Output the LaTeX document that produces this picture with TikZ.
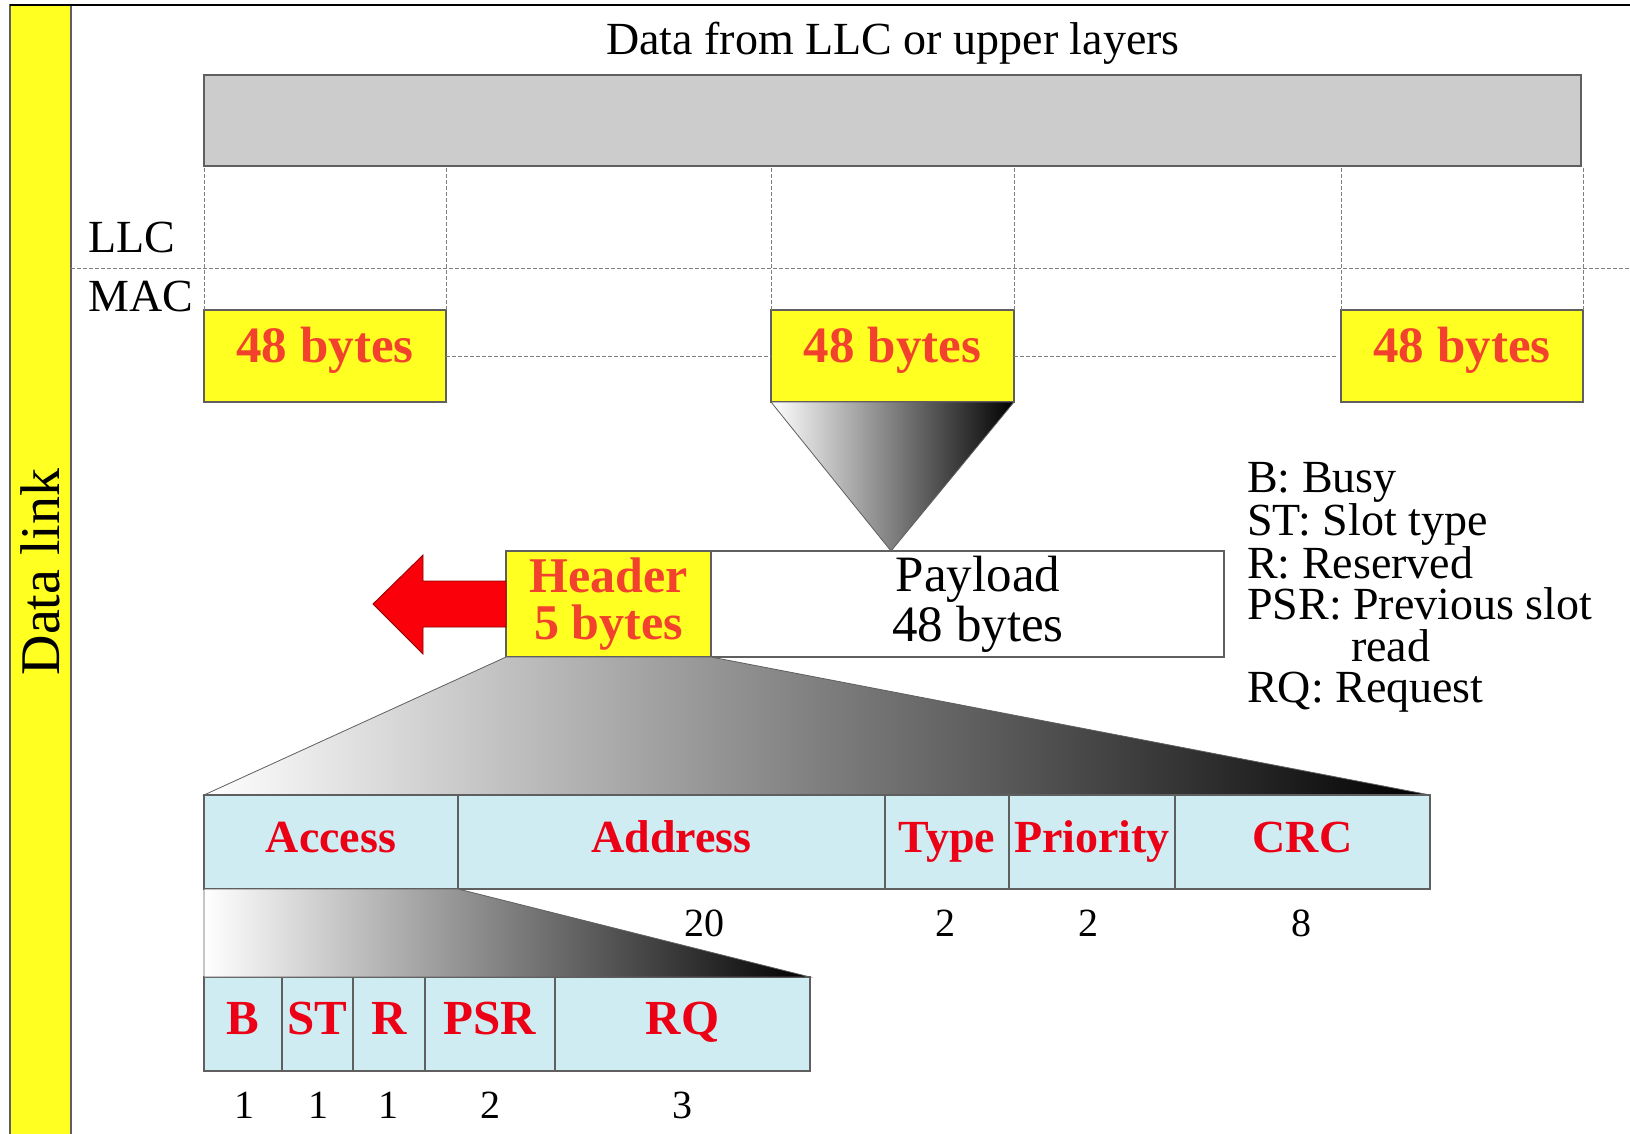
\documentclass[tikz,border=0pt]{standalone}
\usepackage{fontspec}
\setmainfont{Liberation Serif}
\usetikzlibrary{calc}

\definecolor{barYellow}{RGB}{255,255,34}
\definecolor{byteRed}{RGB}{242,66,46}
\definecolor{fieldRed}{RGB}{236,0,22}
\definecolor{cellBlue}{RGB}{206,236,242}
\definecolor{edgeGray}{RGB}{95,95,95}
\definecolor{upperGray}{RGB}{204,204,204}
\definecolor{arrowRed}{RGB}{250,0,10}

\newcommand\fsz[2]{\fontsize{#1}{#2}\selectfont}

\tikzset{
  plainbox/.style={inner sep=0pt, outer sep=0pt, anchor=north west, line width=1.2pt},
  cell/.style={plainbox, draw=edgeGray, fill=cellBlue, minimum height=94pt,
               text=fieldRed, font=\bfseries\fsz{46}{46},
               text height=34pt, text depth=14pt},
  subcell/.style={cell, font=\bfseries\fsz{49}{49}, text height=35pt, text depth=15pt},
  slotbox/.style={plainbox, draw=edgeGray, fill=barYellow, minimum width=242pt,
                  minimum height=92pt, text=byteRed, font=\bfseries\fsz{51}{51},
                  text height=35pt, text depth=23pt},
  guide/.style={draw=gray, line width=0.9pt, dash pattern=on 4pt off 2pt},
  fan/.style={draw=edgeGray, line width=0.8pt, left color=white, right color=black},
  count/.style={font=\fsz{40}{40}, inner sep=0pt},
  caption/.style={font=\fsz{46}{46}, inner sep=0pt}
}

\begin{document}
\begin{tikzpicture}[x=1pt, y=-1pt]
\useasboundingbox (0,0) rectangle (1630,1134);
\begin{scope}
\clip (0,0) rectangle (1630,1134);
\fill[white] (0,0) rectangle (1630,1134);

% side bar and frame
\node[plainbox, draw=edgeGray, fill=barYellow, minimum width=61pt,
      minimum height=1160pt] (bar) at (10,5) {};
\coordinate (frameR) at (1640,5);
\draw[line width=1.2pt] (bar.north west) -- (frameR);
\node[rotate=90, font=\fsz{56}{56}] (dl) at (40,572) {Data link};

% upper layer data
\node[caption] (title) at (893,43) {Data from LLC or upper layers};
\node[plainbox, draw=edgeGray, fill=upperGray, minimum width=1377pt,
      minimum height=91pt] (upper) at (204,75) {};

% LLC / MAC boundary
\coordinate (laneR) at (1640,268);
\draw[guide] (bar.east |- laneR) -- (laneR);
\node[caption, anchor=west] (llc) at (88,237) {LLC};
\node[caption, anchor=west] (mac) at (88,296) {MAC};

% 48-byte slots
\node[slotbox] (s1) at (204,310) {48 bytes};
\node[slotbox, minimum width=243pt] (s2) at (771,310) {48 bytes};
\node[slotbox] (s3) at (1341,310) {48 bytes};

\foreach \s in {s1,s2,s3}{
  \draw[guide] (\s.north west) -- (\s.north west |- upper.south);
  \draw[guide] (\s.north east) -- (\s.north east |- upper.south);
}
\draw[guide] (s1.east) -- (s2.west);
\draw[guide] (s2.east) -- ($(s3.west)+(-5,0)$);

% cell: header + payload
\node[plainbox, draw=edgeGray, fill=white, minimum width=513pt,
      minimum height=106pt] (pay) at (711,551) {};
\node[font=\fsz{51}{50}, align=center] (paytxt) at (978,604) {Payload\\48 bytes};
\node[plainbox, draw=edgeGray, fill=barYellow, minimum width=205pt,
      minimum height=106pt, align=center, text=byteRed,
      font=\bfseries\fsz{50}{47}] (hdr) at (506,551) {Header\\5 bytes};
\coordinate (apex) at ($(pay.north west)+(180,0)$);
\draw[fan] (s2.south west) -- (s2.south east) -- (apex) -- cycle;

% arrow leaving the header
\draw[draw=red!55!black, fill=arrowRed, line width=0.8pt]
  ($(hdr.west)+(0,-23)$) -- ++(-83,0) -- ++(0,-26) -- ++(-50,49)
  -- ++(50,50) -- ++(0,-27) -- ($(hdr.west)+(0,23)$) -- cycle;

% header fields
\node[cell, minimum width=254pt] (f1) at (204,795) {Access};
\node[cell, minimum width=427pt] (f2) at (f1.north east) {Address};
\node[cell, minimum width=124pt] (f3) at (f2.north east) {Type};
\node[cell, minimum width=166pt] (f4) at (f3.north east) {Priority};
\node[cell, minimum width=255pt] (f5) at (f4.north east) {CRC};
\draw[fan] (hdr.south west) -- (hdr.south east) -- (f5.north east)
  -- (f1.north west) -- cycle;
\foreach \f in {f1,f2,f3,f4,f5}{\draw[draw=edgeGray, line width=1.2pt] (\f.south west) rectangle (\f.north east);}

\node[count] (n20) at (704,923) {20};
\node[count] (n2a) at (945,923) {2};
\node[count] (n2b) at (1088,923) {2};
\node[count] (n8)  at (1301,923) {8};

% access subfields
\node[subcell, minimum width=78pt]  (g1) at (204,977) {B};
\node[subcell, minimum width=71pt]  (g2) at (g1.north east) {ST};
\node[subcell, minimum width=72pt]  (g3) at (g2.north east) {R};
\node[subcell, minimum width=130pt] (g4) at (g3.north east) {PSR};
\node[subcell, minimum width=255pt] (g5) at (g4.north east) {RQ};
\draw[fan] (f1.south west) -- (f1.south east) -- (g5.north east)
  -- (g1.north west) -- cycle;

\node[count] (m1) at (244,1105) {1};
\node[count] (m2) at (318,1105) {1};
\node[count] (m3) at (388,1105) {1};
\node[count] (m4) at (490,1105) {2};
\node[count] (m5) at (682,1105) {3};

% legend
\node[anchor=north west, align=left, font=\fsz{46}{41.6}, inner sep=0pt]
  (legend) at (1247,462)
  {B: Busy\\ST: Slot type\\R: Reserved\\PSR: Previous slot\\\hspace*{104pt}read\\RQ: Request};
\end{scope}
\end{tikzpicture}
\end{document}
